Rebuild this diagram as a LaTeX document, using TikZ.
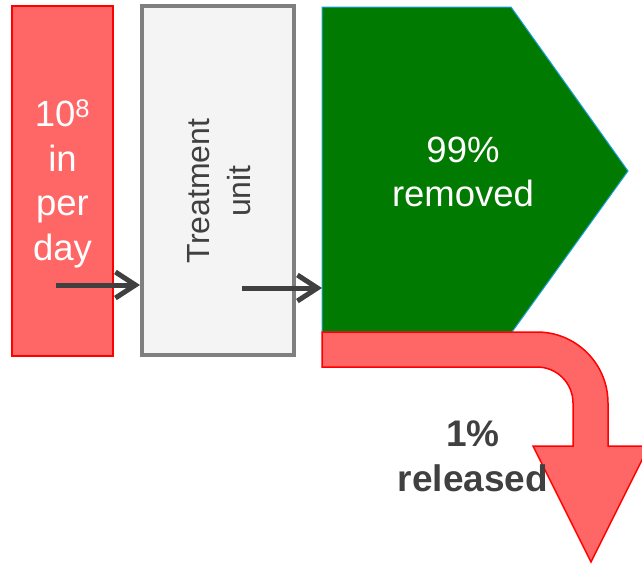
\documentclass[tikz,border=0pt]{standalone}
\usepackage{fontspec}
\setmainfont{Liberation Sans}
\usetikzlibrary{arrows.meta}
\definecolor{lred}{HTML}{FF6666}
\definecolor{dred}{HTML}{FF0000}
\definecolor{dgreen}{HTML}{007A00}
\definecolor{edgeblue}{HTML}{1BA1E2}
\definecolor{boxgray}{HTML}{7F7F7F}
\definecolor{boxfill}{HTML}{F4F4F4}
\definecolor{txt}{HTML}{404040}
\tikzset{
  inbox/.style={draw=dred, fill=lred, line width=1.5pt, minimum width=101pt, minimum height=350pt, inner sep=0pt},
  unitbox/.style={draw=boxgray, fill=boxfill, line width=4pt, minimum width=152pt, minimum height=349pt, inner sep=0pt},
  bigtext/.style={font=\fontsize{36.5}{44.5}\selectfont, align=center, inner sep=0pt},
  flowarrow/.style={draw=txt, line width=5pt, -{Straight Barb[length=20pt, width=26pt]}},
}
\begin{document}
\begin{tikzpicture}[x=1pt, y=-1pt]
\useasboundingbox (0,0) rectangle (642,563);
% input box
\node[inbox] (in) at (62.5,181) {};
\node[bigtext, text=white] (intext) at (62.5,184) {10\textsuperscript{8}\\in\\per\\day};
% treatment unit
\node[unitbox] (unit) at (218,180.5) {};
\node[bigtext, font=\fontsize{32}{41}\selectfont, text=txt, rotate=90] (unittext) at (219.5,191) {Treatment\\unit};
% green pentagon
\coordinate (gA) at (322,7);
\coordinate (gB) at (511,7);
\coordinate (gC) at (628,171);
\coordinate (gD) at (512,332);
\coordinate (gE) at (322,332);
\draw[edgeblue, fill=dgreen, line width=1pt] (gA) -- (gB) -- (gC) -- (gD) -- (gE) -- cycle;
\node[bigtext, text=white] (removed) at (463,172) {99\%\\removed};
% red bent arrow
\draw[dred, fill=lred, line width=1.5pt]
  (322,332) -- (537,332) arc[start angle=-90, end angle=0, radius=71]
  -- (608,446) -- (649,446) -- (591,562) -- (533,446) -- (573,446)
  -- (573,403) arc[start angle=0, end angle=-90, radius=36] -- (322,367) -- cycle;
\node[bigtext, font=\fontsize{37}{45}\selectfont\bfseries, text=txt] (released) at (473,456) {1\%\\released};
% flow arrows
\coordinate (s1) at (56,285);
\coordinate (s2) at (242,288);
\coordinate (t2) at (322,288);
\draw[flowarrow] (s1) -- (s1 -| unit.west);
\draw[flowarrow] (s2) -- (t2);
\end{tikzpicture}
\end{document}
